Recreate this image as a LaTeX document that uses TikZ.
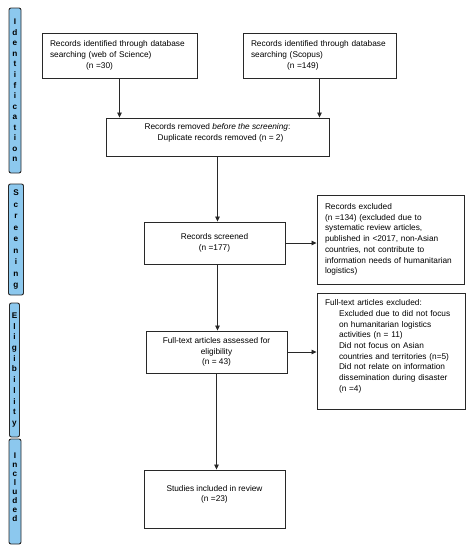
\documentclass[tikz,border=0pt]{standalone}
\usepackage{fontspec}
\setmainfont{Liberation Sans}
\usetikzlibrary{arrows.meta}
\definecolor{barblue}{RGB}{140,200,238}
\definecolor{edge}{RGB}{40,40,40}
\begin{document}
\begin{tikzpicture}[x=1pt,y=-1pt,
  box/.style={draw=edge, line width=0.9pt, rectangle, inner xsep=8pt, inner ysep=0pt,
    font=\fontsize{8.3}{10.7}\selectfont},
  lbox/.style={box, align=left},
  cbox/.style={box, align=center},
  bar/.style={draw=edge, line width=0.9pt, fill=barblue, rounded corners=2pt,
    inner sep=0pt, align=center},
  arr/.style={draw=edge, line width=0.8pt, -{Triangle[width=4.5pt,length=5pt]}}]
\useasboundingbox (0,0) rectangle (469,550);
% side bars
\node[bar, minimum width=12pt, minimum height=165pt, font=\fontsize{8.2}{10.55}\selectfont\bfseries] (bid) at (15,90.5)
  {I\\d\\e\\n\\t\\i\\f\\i\\c\\a\\t\\i\\o\\n};
\node[bar, minimum width=15pt, minimum height=111pt, font=\fontsize{8.2}{11.5}\selectfont\bfseries] (bsc) at (16,239.5)
  {S\\c\\r\\e\\e\\n\\i\\n\\g};
\node[bar, minimum width=10pt, minimum height=134pt, font=\fontsize{8.2}{10.7}\selectfont\bfseries] (bel) at (14.5,370)
  {E\\l\\i\\g\\i\\b\\i\\l\\i\\t\\y};
\node[bar, minimum width=12pt, minimum height=105pt, font=\fontsize{8.2}{9}\selectfont\bfseries] (bin) at (15,491.5)
  {I\\n\\c\\l\\u\\d\\e\\d\rule[-8pt]{0pt}{8pt}};
% boxes
\node[lbox, minimum width=155pt, minimum height=45pt, text width=139pt] (wos) at (119.5,55.5)
  {Records identified through database\\searching (web of Science)\\\hspace*{36pt}(n =30)};
\node[lbox, minimum width=153pt, minimum height=45pt, text width=137pt] (sco) at (319.5,55.5)
  {Records identified through database\\searching (Scopus)\\\hspace*{36pt}(n =149)};
\node[cbox, minimum width=223pt, minimum height=38pt] (rem) at (217.5,137)
  {Records removed \textit{before the screening}:\\\hspace*{6pt}Duplicate records removed (n = 2)\rule[-10pt]{0pt}{10pt}};
\node[cbox, minimum width=141pt, minimum height=42pt] (scr) at (214.5,243)
  {Records screened\\(n =177)};
\node[lbox, minimum width=147pt, minimum height=89pt, text width=131pt] (ex1) at (390.5,239.5)
  {Records excluded\\(n =134) (excluded due to\\systematic review articles,\\published in <2017, non-Asian\\countries, not contribute to\\information needs of humanitarian\\logistics)};
\node[lbox, minimum width=148pt, minimum height=116pt, text width=132pt] (ex2) at (391,351)
  {Full-text articles excluded:\\
   \hspace*{14pt}Excluded due to did not focus\\
   \hspace*{14pt}on humanitarian logistics\\
   \hspace*{14pt}activities (n = 11)\\
   \hspace*{14pt}Did not focus on Asian\\
   \hspace*{14pt}countries and territories (n=5)\\
   \hspace*{14pt}Did not relate on information\\
   \hspace*{14pt}dissemination during disaster\\
   \hspace*{14pt}(n =4)\rule[-11pt]{0pt}{11pt}};
\node[cbox, minimum width=141pt, minimum height=42pt] (ass) at (216.5,352)
  {Full-text articles assessed for\\eligibility\\(n = 43)};
\node[cbox, minimum width=141pt, minimum height=58pt] (stu) at (214.5,499)
  {Studies included in review\\(n =23)\rule[-11pt]{0pt}{11pt}};
% connectors
\draw[arr] (wos.south) -- (wos.south |- rem.north);
\draw[arr] (sco.south) -- (sco.south |- rem.north);
\draw[arr] (rem.south) -- (rem.south |- scr.north);
\draw[arr] (scr.east) -- (scr.east -| ex1.west);
\draw[arr] (rem.south |- scr.south) -- (rem.south |- ass.north);
\draw[arr] (ass.east) -- (ass.east -| ex2.west);
\draw[arr] (ass.south) -- (ass.south |- stu.north);
\end{tikzpicture}
\end{document}
